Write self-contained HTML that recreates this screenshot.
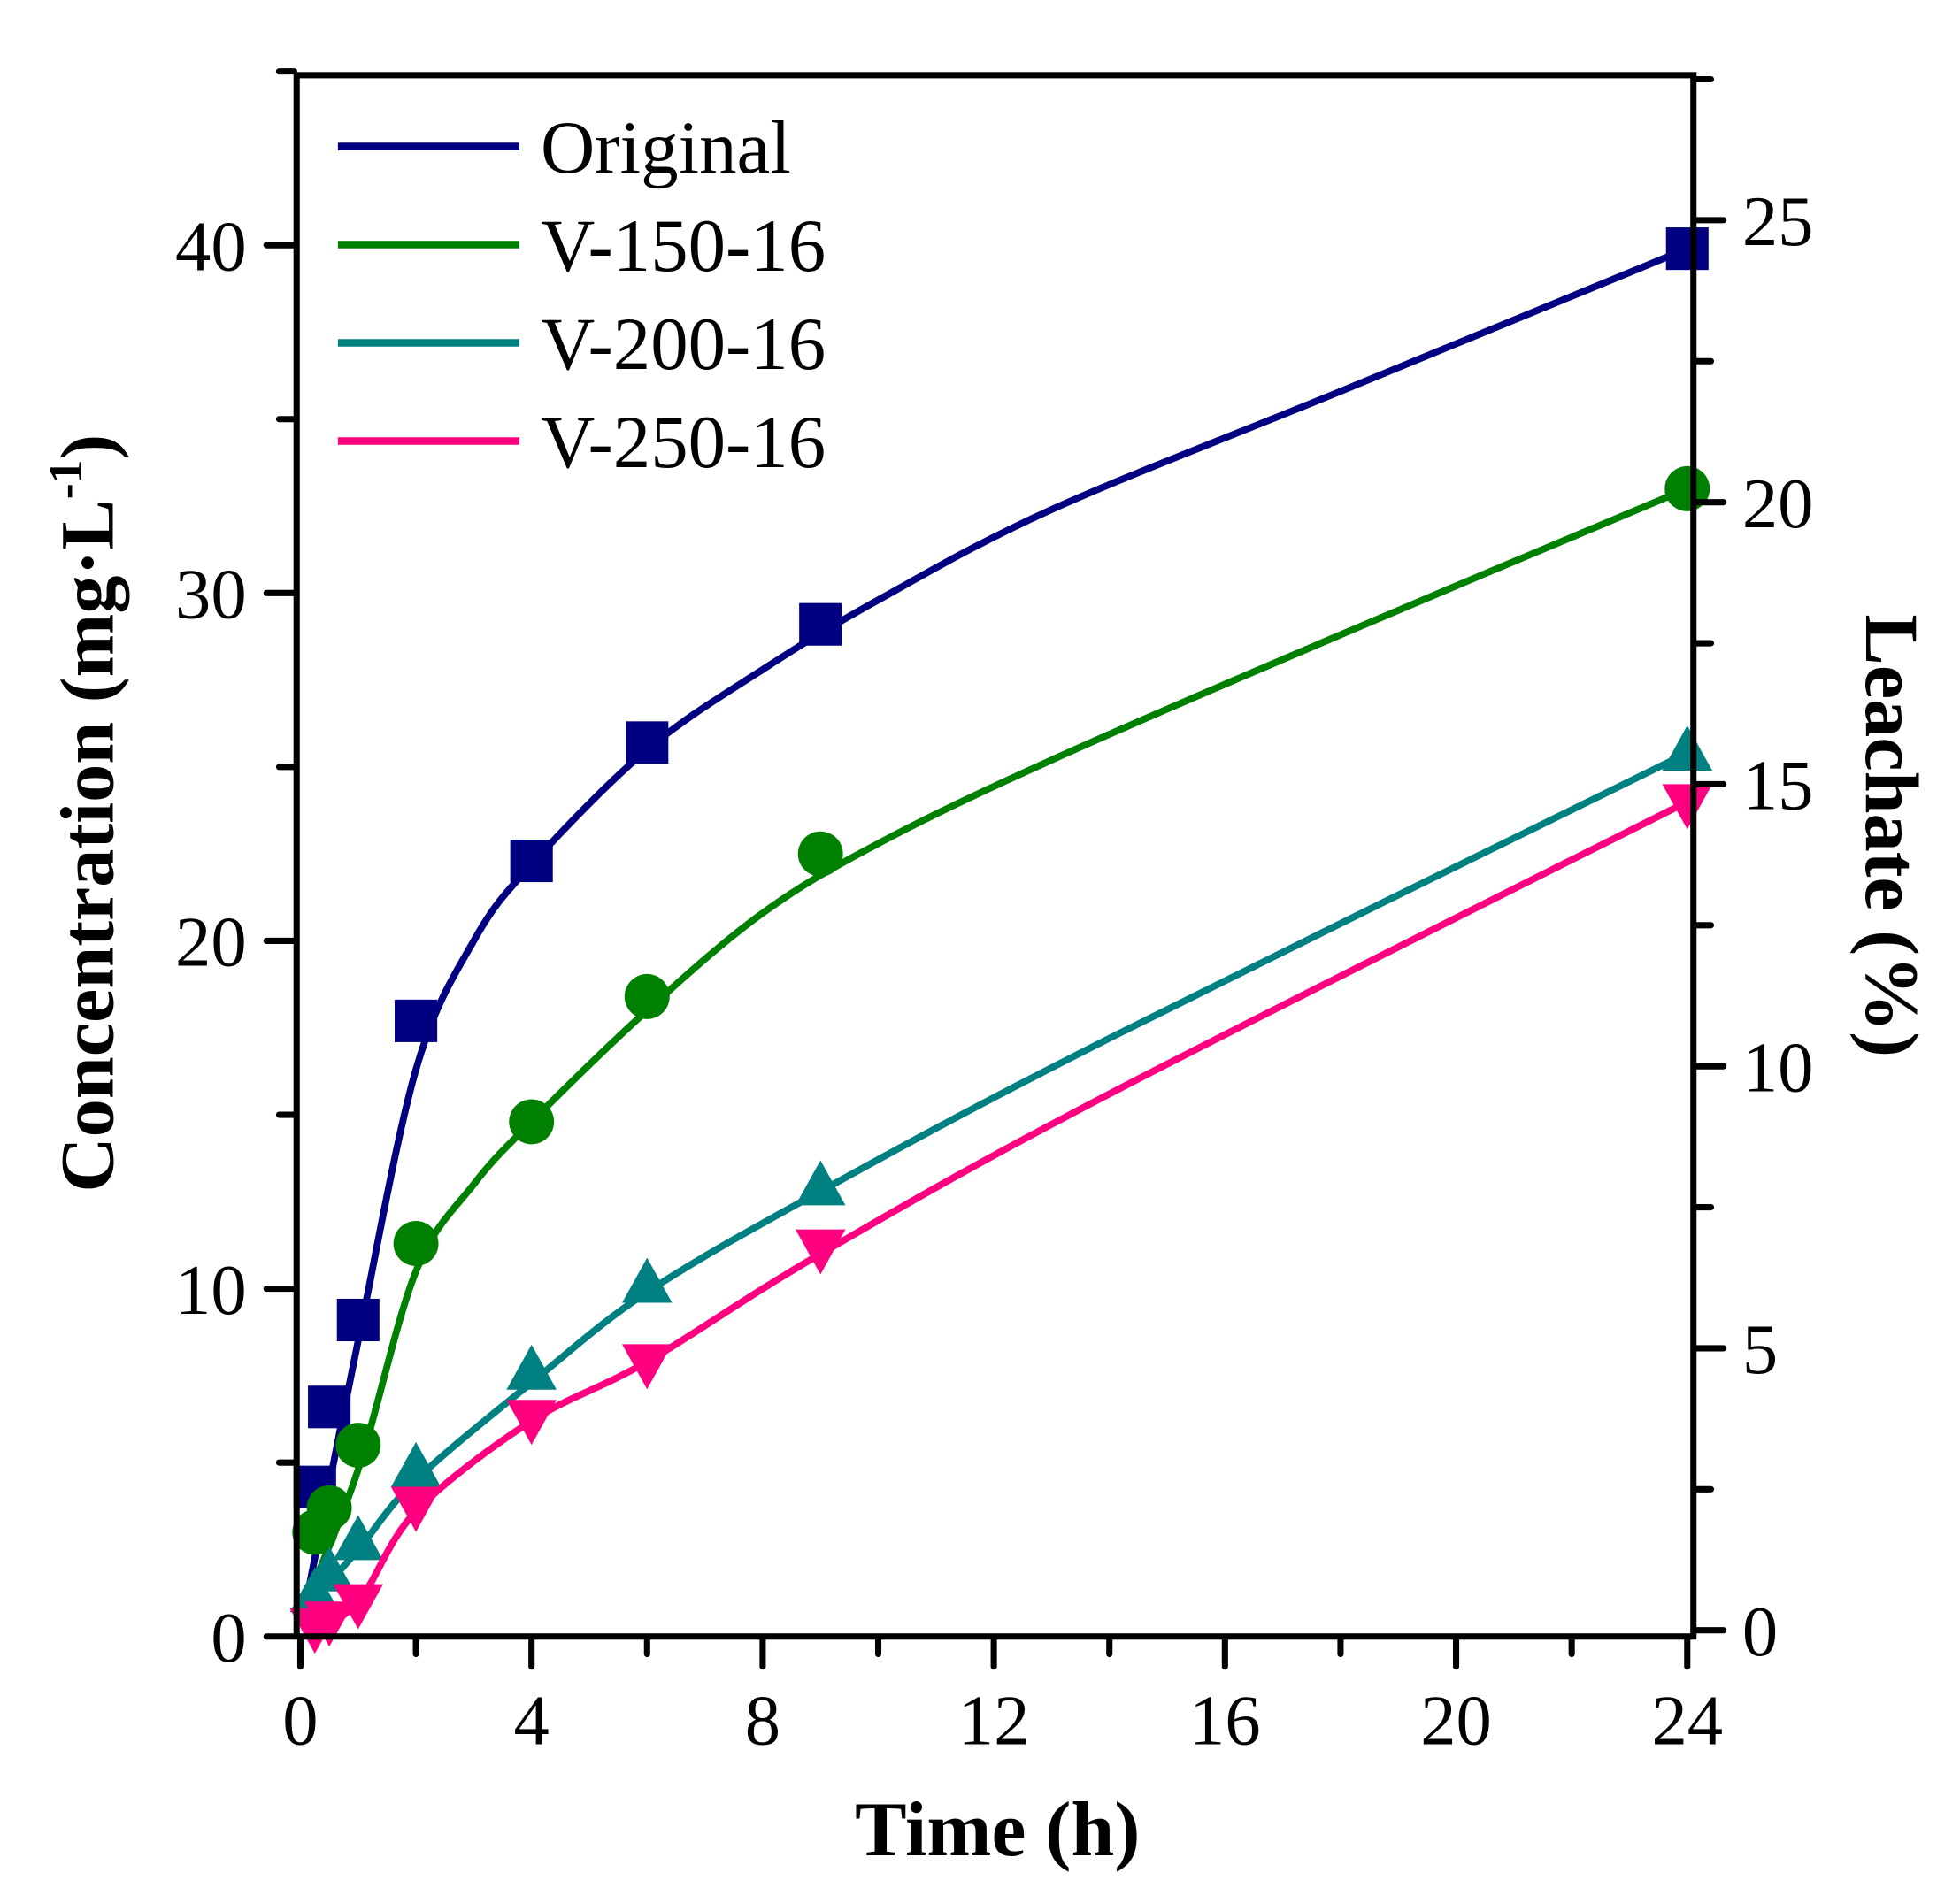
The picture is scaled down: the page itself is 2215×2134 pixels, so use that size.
<!DOCTYPE html>
<html><head><meta charset="utf-8"><style>html,body{margin:0;padding:0;background:#fff}svg{display:block}</style></head>
<body>
<svg id="s" width="2215" height="2134" viewBox="0 0 1566 1509" preserveAspectRatio="none" xmlns="http://www.w3.org/2000/svg" font-family="Liberation Serif, serif">
<rect width="1566" height="1509" fill="#fff"/>
<g id="plot"></g>
<rect x="237" y="60" width="1116" height="1248" fill="none" stroke="#000" stroke-width="5"/>
<g id="ticks" stroke="#000" stroke-width="5" stroke-linecap="round"></g>
<g font-size="57" fill="#000" id="labels"></g>
<text x="797" y="1483" font-size="62" font-weight="bold" text-anchor="middle">Time (h)</text>
<text transform="translate(90,650) rotate(-90)" font-size="61" font-weight="bold" text-anchor="middle">Concentration (mg·L<tspan font-size="38" dy="-25">-1</tspan><tspan dy="25">)</tspan></text>
<text transform="translate(1491,668) rotate(90)" font-size="61" font-weight="bold" text-anchor="middle">Leachate (%)</text>
<g font-size="60" id="legend"></g>
</svg>
<script>
const NS="http://www.w3.org/2000/svg";
const X=t=>240+t*46.17, Y=v=>1308-v*27.8, YR=p=>1303-p*45.08;
function el(p,tag,a,txt){const e=document.createElementNS(NS,tag);for(const k in a)e.setAttribute(k,a[k]);if(txt!=null)e.textContent=txt;document.getElementById(p).appendChild(e);return e;}
for(let t=0;t<=24;t+=2){const M=t%4==0;el("ticks","line",{x1:X(t),y1:1310,x2:X(t),y2:1310+(M?22:12)});if(M)el("labels","text",{x:X(t),y:1394,"text-anchor":"middle"},t);}
for(let v=0;v<=45;v+=5){const M=v%10==0;el("ticks","line",{x1:235,y1:Y(v),x2:235-(M?22:12),y2:Y(v)});if(M)el("labels","text",{x:197,y:Y(v)+20,"text-anchor":"end"},v);}
for(let p=0;p<=27.5;p+=2.5){const M=p%5==0;el("ticks","line",{x1:1355,y1:YR(p),x2:1355+(M?22:12),y2:YR(p)});if(M)el("labels","text",{x:1392,y:YR(p)+20},p);}
function smooth(pts){let d="M"+pts[0].join(",");for(let i=0;i<pts.length-1;i++){const p0=pts[i-1]||pts[i],p1=pts[i],p2=pts[i+1],p3=pts[i+2]||p2;const c1=[p1[0]+(p2[0]-p0[0])/6,p1[1]+(p2[1]-p0[1])/6],c2=[p2[0]-(p3[0]-p1[0])/6,p2[1]-(p3[1]-p1[1])/6];d+="C"+c1.join(",")+" "+c2.join(",")+" "+p2.join(",");}return d;}
const S=[
 {c:"#000080",m:"sq",name:"Original",curve:[[0.1,1],[1,8.5],[2,16.3],[3,20],[4,22.2],[6,25.5],[8,27.8],[10,29.8],[13,32.4],[18,35.8],[24,39.9]],pts:[[0.25,4.3],[0.5,6.6],[1,9.1],[2,17.7],[4,22.3],[6,25.7],[9,29.1],[24,39.9]]},
 {c:"#008000",m:"ci",name:"V-150-16",curve:[[0.1,1],[1,4.8],[2,10.5],[3,13],[4,14.8],[6,18],[8,20.8],[10,22.8],[13,25.2],[18,28.8],[24,33]],pts:[[0.25,3.0],[0.5,3.7],[1,5.5],[2,11.3],[4,14.8],[6,18.4],[9,22.5],[24,33]]},
 {c:"#008080",m:"tu",name:"V-200-16",curve:[[0.1,0.8],[1,2.5],[2,4.5],[4,7.3],[6,9.9],[9,12.8],[14,17.2],[24,25.4]],pts:[[0.25,1.2],[0.5,1.8],[1,2.7],[2,4.8],[4,7.6],[6,10.1],[9,12.9],[24,25.4]]},
 {c:"#ff0080",m:"td",name:"V-250-16",curve:[[0.1,0],[1,1],[2,3.6],[4,6.2],[6,7.9],[9,11],[14,15.6],[24,24]],pts:[[0.25,0.3],[0.5,0.5],[1,1.0],[2,3.8],[4,6.3],[6,7.9],[9,11.2],[24,24]]}
];
S.forEach((s,i)=>{
 el("plot","path",{d:smooth(s.curve.map(p=>[X(p[0]),Y(p[1])])),fill:"none",stroke:s.c,"stroke-width":5.5});
 s.pts.forEach(p=>{const x=X(p[0]),y=Y(p[1]);
  if(s.m=="sq")el("plot","rect",{x:x-17,y:y-17,width:34,height:34,fill:s.c});
  else if(s.m=="ci")el("plot","circle",{cx:x,cy:y,r:18,fill:s.c});
  else if(s.m=="tu")el("plot","polygon",{points:`${x},${y-22} ${x-20},${y+14} ${x+20},${y+14}`,fill:s.c});
  else el("plot","polygon",{points:`${x},${y+22} ${x-20},${y-14} ${x+20},${y-14}`,fill:s.c});
 });
 const ly=117+i*78.5;
 el("legend","line",{x1:270,y1:ly,x2:415,y2:ly,stroke:s.c,"stroke-width":6});
 el("legend","text",{x:432,y:ly+21},s.name);
});
</script>
</body></html>
